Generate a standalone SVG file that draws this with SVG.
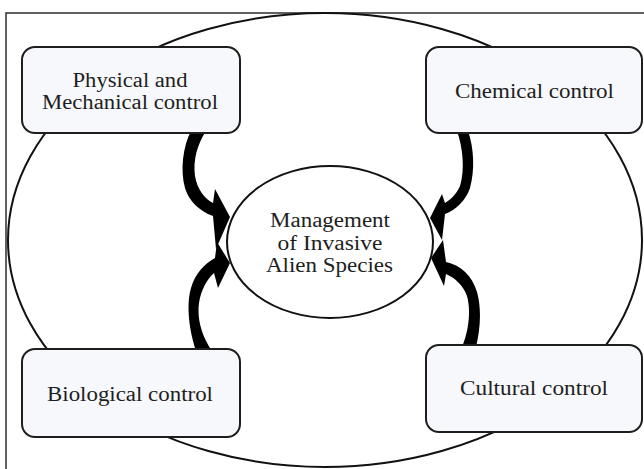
<svg xmlns="http://www.w3.org/2000/svg" width="644" height="469" viewBox="0 0 644 469">
<style>
.frame{fill:none;stroke:#3a3a3a;stroke-width:1.6}
.outer{fill:none;stroke:#111;stroke-width:2}
.box{fill:#f7f8fb;stroke:#1e1e1e;stroke-width:2}
.hub{fill:#fff;stroke:#111;stroke-width:2}
.arrow{fill:#000;stroke:none}
.lbl{font-family:"Liberation Serif","Times New Roman",serif;font-size:20px;fill:#1e1e1e;text-anchor:middle}
</style>
<rect x="0" y="0" width="644" height="469" fill="#fff"/>
<rect class="frame" x="6" y="13" width="700" height="520"/>
<ellipse class="outer" cx="325" cy="240" rx="317" ry="227"/>
<g id="connectors">
<path class="arrow" d="M191,131 C183,146 180,170 185,188 C189,201 199,211 213,216 L216,249 L230,217 L215,189 L213,203 C205,199 197,189 195,176 C193,160 197,145 206,131 Z"/>
<path class="arrow" d="M196,351 C189,330 186,305 191,288 C195,274 204,264 215,258 L217,242 L230,263 L218,288 L214,273 C207,279 201,290 199,303 C197,318 201,335 212,351 Z"/>
<path class="arrow" d="M457,131 C463,148 465,170 460,186 C456,195 450,200 445,203 L442,194 L430,218 L442,240 L445,214 C456,210 466,200 470,188 C475,170 474,148 468,131 Z"/>
<path class="arrow" d="M462,347 C469,330 471,310 467,296 C463,285 455,278 446,274 L444,286 L431,258 L443,240 L446,262 C460,265 472,275 477,292 C482,310 480,330 476,347 Z"/>
</g>
<g id="physical">
<rect class="box" x="22" y="47" width="218" height="86" rx="13"/>
<text class="lbl" x="130" y="87" textLength="115" lengthAdjust="spacingAndGlyphs">Physical and</text>
<text class="lbl" x="130" y="109" textLength="176" lengthAdjust="spacingAndGlyphs">Mechanical control</text>
</g>
<g id="chemical">
<rect class="box" x="426" y="47" width="216" height="86" rx="13"/>
<text class="lbl" x="534.5" y="98" textLength="159" lengthAdjust="spacingAndGlyphs">Chemical control</text>
</g>
<g id="biological">
<rect class="box" x="22" y="349" width="218" height="88" rx="13"/>
<text class="lbl" x="130" y="401" textLength="166" lengthAdjust="spacingAndGlyphs">Biological control</text>
</g>
<g id="cultural">
<rect class="box" x="426" y="345" width="216" height="87" rx="13"/>
<text class="lbl" x="534" y="395" textLength="148" lengthAdjust="spacingAndGlyphs">Cultural control</text>
</g>
<g id="management">
<ellipse class="hub" cx="330" cy="242" rx="103" ry="76"/>
<text class="lbl" x="330" y="227" textLength="120" lengthAdjust="spacingAndGlyphs">Management</text>
<text class="lbl" x="330" y="250" textLength="105" lengthAdjust="spacingAndGlyphs">of Invasive</text>
<text class="lbl" x="329.5" y="272" textLength="127" lengthAdjust="spacingAndGlyphs">Alien Species</text>
</g>
</svg>
